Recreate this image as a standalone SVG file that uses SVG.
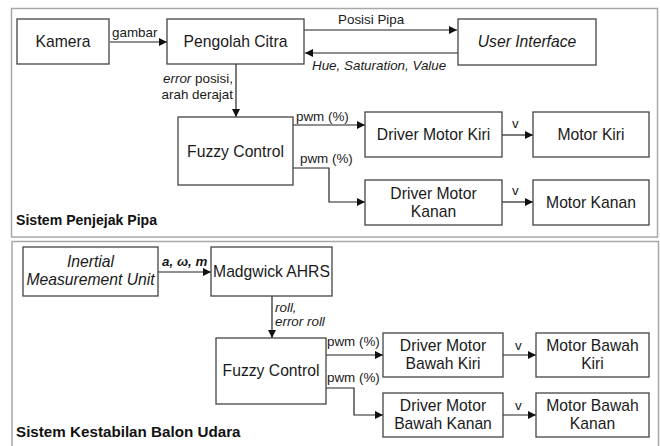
<svg xmlns="http://www.w3.org/2000/svg" width="660" height="446" viewBox="0 0 660 446">
<defs>
<marker id="ah" viewBox="0 0 10 10" refX="10" refY="5" markerWidth="8" markerHeight="8" markerUnits="userSpaceOnUse" orient="auto">
<path d="M0,0 L10,5 L0,10 z" fill="#111"/>
</marker>
</defs>
<style>
.panel{fill:none;stroke:#a8a8a8;stroke-width:1.5}
.box{fill:#fff;stroke:#444;stroke-width:1.3}
.t{font-family:"Liberation Sans",Arial,sans-serif;font-size:15.7px;fill:#1a1a1a;text-anchor:middle}
.lb{font-family:"Liberation Sans",Arial,sans-serif;font-size:13.4px;fill:#1a1a1a}
.it{font-style:italic}
.title{font-family:"Liberation Sans",Arial,sans-serif;font-weight:bold;fill:#111}
.c{fill:none;stroke:#222;stroke-width:1.2;marker-end:url(#ah)}
</style>
<rect width="660" height="446" fill="#fff"/>
<g id="panel-top">
<rect class="panel" x="11.5" y="8.5" width="646" height="228.5"/>
<text class="title" x="16" y="225" font-size="14.1px">Sistem Penjejak Pipa</text>
</g>
<g id="panel-bottom">
<path class="panel" d="M12,446 V241.5 H658.5 V446"/>
<text class="title" x="16" y="437" font-size="15.2px">Sistem Kestabilan Balon Udara</text>
</g>
<g id="connectors">
<line class="c" x1="110" y1="42" x2="167" y2="42"/>
<line class="c" x1="304" y1="30" x2="457" y2="30"/>
<line class="c" x1="458" y1="53" x2="305" y2="53"/>
<line class="c" x1="236" y1="64" x2="236" y2="117"/>
<line class="c" x1="293" y1="125" x2="365" y2="125"/>
<path class="c" d="M293,168 H329 V202 H365"/>
<line class="c" x1="502" y1="135" x2="533" y2="135"/>
<line class="c" x1="502" y1="202" x2="533" y2="202"/>
<line class="c" x1="158" y1="272" x2="211" y2="272"/>
<line class="c" x1="272" y1="296" x2="272" y2="338"/>
<line class="c" x1="326" y1="355" x2="383" y2="355"/>
<path class="c" d="M326,388 H354 V415 H383"/>
<line class="c" x1="503" y1="355" x2="536" y2="355"/>
<line class="c" x1="503" y1="415" x2="536" y2="415"/>
<text class="lb" x="112" y="37">gambar</text>
<text class="lb" x="338" y="24">Posisi Pipa</text>
<text class="lb it" x="312" y="70">Hue, Saturation, Value</text>
<text class="lb" x="233" y="83" text-anchor="end"><tspan class="it">error</tspan> posisi,</text>
<text class="lb" x="233" y="99" text-anchor="end">arah derajat</text>
<text class="lb" x="296" y="121">pwm (%)</text>
<text class="lb" x="300" y="163">pwm (%)</text>
<text class="lb" x="512" y="128">v</text>
<text class="lb" x="512" y="195">v</text>
<text class="lb it" x="162" y="266" font-weight="bold" font-size="13px">a, ω, m</text>
<text class="lb it" x="275" y="312">roll,</text>
<text class="lb it" x="275" y="326">error roll</text>
<text class="lb" x="327" y="346" font-size="13px">pwm (%)</text>
<text class="lb" x="327" y="382" font-size="13px">pwm (%)</text>
<text class="lb" x="515" y="350">v</text>
<text class="lb" x="515" y="410">v</text>
</g>
<g id="kamera"><rect class="box" x="17" y="19" width="92" height="45"/><text class="t" x="63" y="47">Kamera</text></g>
<g id="pengolah-citra"><rect class="box" x="167" y="19" width="137" height="45"/><text class="t" x="235.5" y="47">Pengolah Citra</text></g>
<g id="user-interface"><rect class="box" x="458" y="19" width="138" height="46"/><text class="t it" x="527" y="47">User Interface</text></g>
<g id="fuzzy-top"><rect class="box" x="178" y="117" width="115" height="68"/><text class="t" x="235.5" y="157">Fuzzy Control</text></g>
<g id="driver-kiri"><rect class="box" x="365" y="112" width="137" height="45"/><text class="t" x="433.5" y="140">Driver Motor Kiri</text></g>
<g id="motor-kiri"><rect class="box" x="533" y="112" width="116" height="45"/><text class="t" x="591" y="140">Motor Kiri</text></g>
<g id="driver-kanan"><rect class="box" x="365" y="180" width="137" height="45"/><text class="t" x="433.5" y="199">Driver Motor</text><text class="t" x="433.5" y="217">Kanan</text></g>
<g id="motor-kanan"><rect class="box" x="533" y="180" width="116" height="45"/><text class="t" x="591" y="208">Motor Kanan</text></g>
<g id="imu"><rect class="box" x="23" y="247" width="135" height="49"/><text class="t it" x="90.5" y="267">Inertial</text><text class="t it" x="90.5" y="285">Measurement Unit</text></g>
<g id="madgwick"><rect class="box" x="211" y="247" width="121" height="49"/><text class="t" x="271.5" y="277" font-size="15px">Madgwick AHRS</text></g>
<g id="fuzzy-bottom"><rect class="box" x="216" y="338" width="110" height="66"/><text class="t" x="271" y="376" font-size="15.3px">Fuzzy Control</text></g>
<g id="driver-bawah-kiri"><rect class="box" x="383" y="333" width="120" height="44"/><text class="t" x="443" y="351" font-size="15.3px">Driver Motor</text><text class="t" x="443" y="369" font-size="15.3px">Bawah Kiri</text></g>
<g id="motor-bawah-kiri"><rect class="box" x="536" y="333" width="113" height="44"/><text class="t" x="592.5" y="351" font-size="15.3px">Motor Bawah</text><text class="t" x="592.5" y="369" font-size="15.3px">Kiri</text></g>
<g id="driver-bawah-kanan"><rect class="box" x="383" y="393" width="120" height="44"/><text class="t" x="443" y="411" font-size="15.3px">Driver Motor</text><text class="t" x="443" y="429" font-size="15.3px">Bawah Kanan</text></g>
<g id="motor-bawah-kanan"><rect class="box" x="536" y="393" width="113" height="44"/><text class="t" x="592.5" y="411" font-size="15.3px">Motor Bawah</text><text class="t" x="592.5" y="429" font-size="15.3px">Kanan</text></g>
</svg>
